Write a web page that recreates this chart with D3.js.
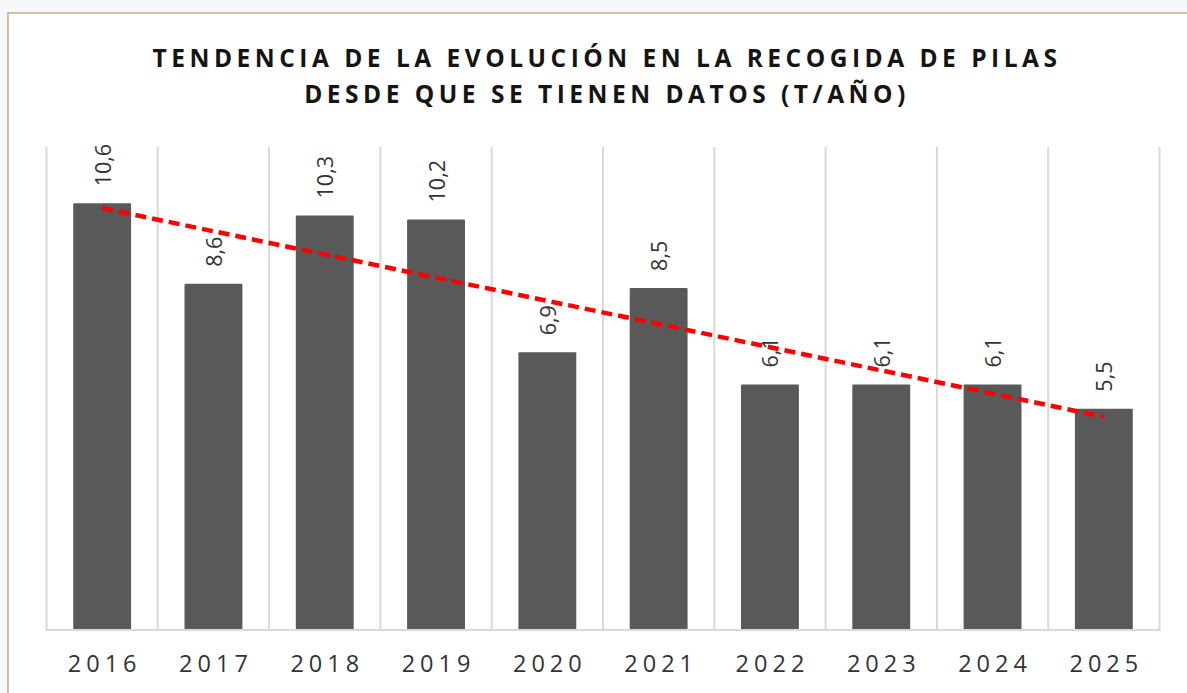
<!DOCTYPE html>
<html>
<head>
<meta charset="utf-8">
<script src="https://cdn.jsdelivr.net/npm/d3@7/dist/d3.min.js"></script>
<style>
  html, body { margin: 0; padding: 0; background: #f6f8fa; }
  svg { display: block; }
</style>
</head>
<body>
<svg id="chart" width="1187" height="693"></svg>
<script>
const titleLines = ["TENDENCIA DE LA EVOLUCIÓN EN LA RECOGIDA DE PILAS", "DESDE QUE SE TIENEN DATOS (T/AÑO)"];
const years = ["2016", "2017", "2018", "2019", "2020", "2021", "2022", "2023", "2024", "2025"];
const values = [10.6, 8.6, 10.3, 10.2, 6.9, 8.5, 6.1, 6.1, 6.1, 5.5];
const yDomain = [0, 12];

(function () {
const svg = d3.select("#chart");
const W = 1187, H = 693;

// frame
svg.append("rect").attr("x", 9).attr("y", 14).attr("width", W).attr("height", H)
  .attr("fill", "none").attr("stroke", "#e6e2d4").attr("stroke-width", 4);
svg.append("rect").attr("x", 8).attr("y", 13).attr("width", W).attr("height", H)
  .attr("fill", "#ffffff").attr("stroke", "#bdb595").attr("stroke-width", 1.5);

const pLeft = 46.5, pRight = 1159.5, pTop = 147, pBottom = 630;
const x = d3.scaleBand().domain(years).range([pLeft, pRight]).paddingInner(0.48).paddingOuter(0.24);
const y = d3.scaleLinear().domain(yDomain).range([pBottom, pTop]);

// gridlines (category boundaries)
const bounds = d3.range(years.length + 1).map(i => pLeft + i * x.step());
svg.append("g").selectAll("line").data(bounds).join("line")
  .attr("x1", d => d).attr("x2", d => d).attr("y1", pTop).attr("y2", pBottom)
  .attr("stroke", "#d9d9d9").attr("stroke-width", 2);

// bars
svg.append("g").selectAll("rect").data(values).join("rect")
  .attr("x", (d, i) => x(years[i])).attr("width", x.bandwidth())
  .attr("y", d => y(d)).attr("height", d => y(0) - y(d))
  .attr("fill", "#595959").attr("rx", 1);

// baseline
svg.append("line").attr("x1", pLeft - 1).attr("x2", pRight + 1).attr("y1", pBottom).attr("y2", pBottom)
  .attr("stroke", "#d9d9d9").attr("stroke-width", 2);

// x axis labels
const xAxis = d3.axisBottom(x).tickSize(0).tickPadding(0);
const gx = svg.append("g").attr("transform", `translate(0,${pBottom})`).call(xAxis);
gx.select(".domain").remove();
gx.selectAll("text")
  .attr("y", 42).attr("dy", 0)
  .attr("dx", 2.5)
  .style("font-family", "'Open Sans', sans-serif").style("font-size", "23.5px")
  .style("letter-spacing", "5px").attr("fill", "#333333");

// value labels
svg.append("g").selectAll("text").data(values).join("text")
  .attr("transform", (d, i) => `translate(${x(years[i]) + x.bandwidth() / 2},${y(d) - 17}) rotate(-90)`)
  .attr("dominant-baseline", "central")
  .attr("text-anchor", "start")
  .style("font-family", "'Open Sans', sans-serif").style("font-size", "21.5px")
  .attr("fill", "#333333")
  .text(d => d.toString().replace(".", ","));

// linear trend line computed from data
const n = values.length;
const xs = d3.range(n);
const mx = d3.mean(xs), my = d3.mean(values);
const slope = d3.sum(xs, i => (i - mx) * (values[i] - my)) / d3.sum(xs, i => (i - mx) ** 2);
const icpt = my - slope * mx;
const line = d3.line().x(i => x(years[i]) + x.bandwidth() / 2).y(i => y(icpt + slope * i));
svg.append("path").datum([0, n - 1]).attr("d", line)
  .attr("fill", "none").attr("stroke", "#ff0000").attr("stroke-width", 4.5)
  .attr("stroke-dasharray", "11,6");

// title
const cx = (pLeft + pRight) / 2 + 2;
svg.append("g").selectAll("text").data(titleLines).join("text")
  .attr("x", cx + 2).attr("y", (d, i) => 67 + i * 36)
  .attr("text-anchor", "middle")
  .style("font-family", "'Open Sans', sans-serif").style("font-size", "24.5px")
  .style("font-weight", "bold").style("letter-spacing", "4.5px")
  .attr("fill", "#141414")
  .text(d => d);
})();
</script>
</body>
</html>
